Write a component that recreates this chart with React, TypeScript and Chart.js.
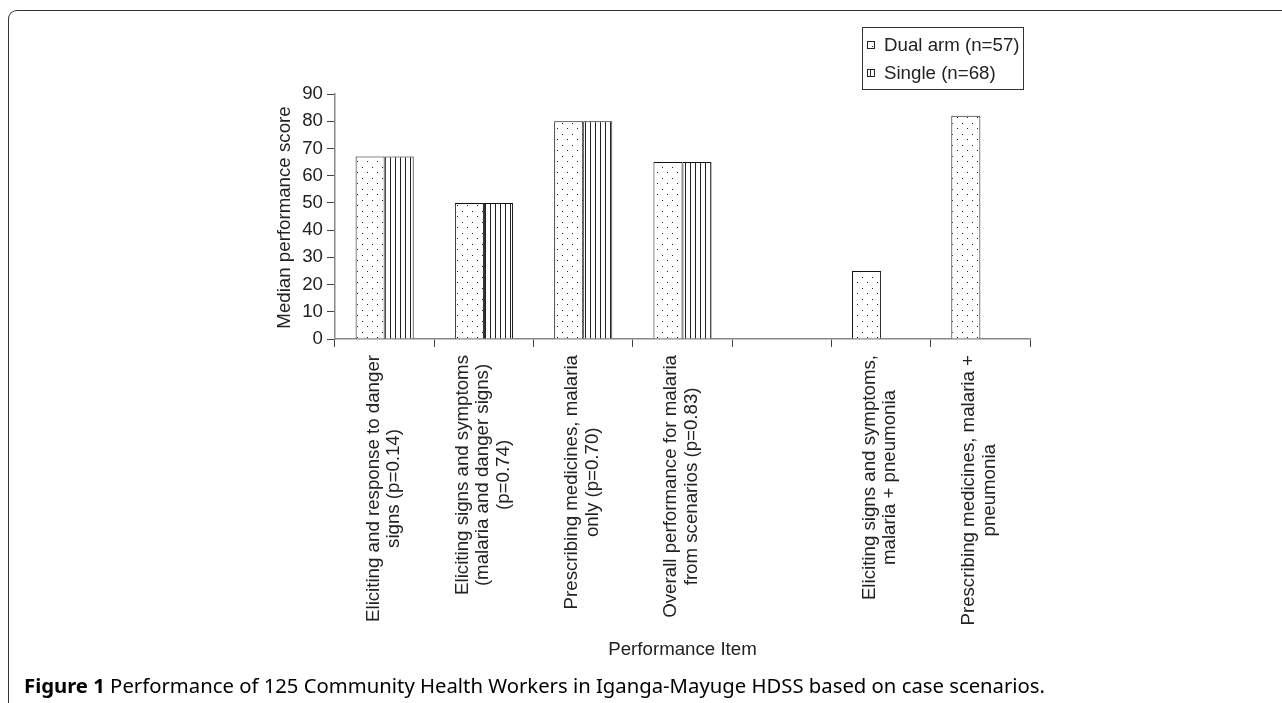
import React, { useEffect, useRef } from "react";
import { Chart, registerables } from "chart.js";

Chart.register(...registerables);

const FONT = "'Liberation Sans', Arial, sans-serif";
const FS = 18.7;

const categories: string[][] = [
  ["Eliciting and response to danger", "signs (p=0.14)"],
  ["Eliciting signs and symptoms", "(malaria and danger signs)", "(p=0.74)"],
  ["Prescribing medicines, malaria", "only (p=0.70)"],
  ["Overall performance for malaria", "from scenarios (p=0.83)"],
  [""],
  ["Eliciting signs and symptoms,", "malaria + pneumonia"],
  ["Prescribing medicines, malaria +", "pneumonia"],
];
const dualArm: (number | null)[] = [67, 50, 80, 65, null, 25, 82];
const single: (number | null)[] = [67, 50, 80, 65, null, null, null];
const seriesLabels = ["Dual arm (n=57)", "Single (n=68)"];
const yTicks = [0, 10, 20, 30, 40, 50, 60, 70, 80, 90];
const yTitle = "Median performance score";
const xTitle = "Performance Item";
const captionBold = "Figure 1";
const captionText = " Performance of 125 Community Health Workers in Iganga-Mayuge HDSS based on case scenarios.";

function makeDots(ctx: CanvasRenderingContext2D) {
  const c = document.createElement("canvas");
  c.width = 10;
  c.height = 11;
  const g = c.getContext("2d")!;
  g.fillStyle = "#ffffff";
  g.fillRect(0, 0, 10, 11);
  g.fillStyle = "#222222";
  g.fillRect(2, 2, 1, 1);
  g.fillRect(7, 7, 1, 1);
  return ctx.createPattern(c, "repeat")!;
}

function makeLines(ctx: CanvasRenderingContext2D) {
  const c = document.createElement("canvas");
  c.width = 5;
  c.height = 5;
  const g = c.getContext("2d")!;
  g.fillStyle = "#ffffff";
  g.fillRect(0, 0, 5, 5);
  g.fillStyle = "#222222";
  g.fillRect(0, 0, 1, 5);
  return ctx.createPattern(c, "repeat")!;
}

export default function App() {
  const ref = useRef<HTMLCanvasElement | null>(null);

  useEffect(() => {
    const canvas = ref.current!;
    const ctx = canvas.getContext("2d")!;
    const dots = makeDots(ctx);
    const lines = makeLines(ctx);
    const patterns = [dots, lines];

    const overlay = {
      id: "overlay",
      afterDraw(chart: any) {
        const c: CanvasRenderingContext2D = chart.ctx;
        const xs = chart.scales.x;
        const ys = chart.scales.y;
        c.save();
        c.font = `${FS}px ${FONT}`;
        c.fillStyle = "#222";
        const lh = 20.5;
        const top = ys.bottom + 16;
        categories.forEach((ls, i) => {
          const cx = xs.getPixelForValue(i) - 1;
          const maxW = Math.max(...ls.map((l) => c.measureText(l).width));
          c.save();
          c.translate(cx, top);
          c.rotate(-Math.PI / 2);
          c.textAlign = "center";
          c.textBaseline = "middle";
          ls.forEach((l, j) => c.fillText(l, -maxW / 2, (j - (ls.length - 1) / 2) * lh));
          c.restore();
        });
        // y title
        c.save();
        c.translate(285, (ys.top + ys.bottom) / 2 + 1);
        c.rotate(-Math.PI / 2);
        c.textAlign = "center";
        c.textBaseline = "middle";
        c.fillText(yTitle, 0, 0);
        c.restore();
        // x title
        c.textAlign = "center";
        c.textBaseline = "middle";
        c.fillText(xTitle, (xs.left + xs.right) / 2, 650);
        // legend
        c.strokeStyle = "#333";
        c.lineWidth = 1;
        c.strokeRect(862.5, 27.5, 161, 62);
        c.textAlign = "left";
        seriesLabels.forEach((lab, k) => {
          const y = 45 + k * 28;
          c.fillStyle = patterns[k];
          c.fillRect(867, y - 4, 8, 8);
          c.strokeStyle = "#222";
          c.strokeRect(867.5, y - 3.5, 7, 7);
          c.fillStyle = "#222";
          c.fillText(lab, 884, y + 1);
        });
        c.restore();
      },
    };

    const chart = new Chart(canvas, {
      type: "bar",
      data: {
        labels: categories.map((l) => l.join(" ")),
        datasets: [
          {
            label: seriesLabels[0],
            data: dualArm,
            backgroundColor: dots,
            borderColor: "#111",
            borderWidth: 1,
            categoryPercentage: 0.585,
            barPercentage: 1.0,
          },
          {
            label: seriesLabels[1],
            data: single,
            backgroundColor: lines,
            borderColor: "#111",
            borderWidth: 1,
            categoryPercentage: 0.585,
            barPercentage: 1.0,
          },
        ],
      },
      options: {
        animation: false,
        responsive: false,
        maintainAspectRatio: false,
        devicePixelRatio: 1,
        layout: { padding: { left: 250, right: 252, top: 94, bottom: 0 } },
        plugins: { legend: { display: false }, tooltip: { enabled: false } },
        scales: {
          x: {
            grid: { offset: true, drawOnChartArea: false, drawTicks: true, tickLength: 8, tickColor: "#444" },
            border: { color: "#888", width: 1.5 },
            ticks: { display: false },
            afterFit: (s: any) => {
              s.height = 364;
            },
          },
          y: {
            min: 0,
            max: 90,
            afterBuildTicks: (s: any) => {
              s.ticks = yTicks.map((v) => ({ value: v }));
            },
            ticks: { font: { family: FONT, size: FS }, color: "#222", padding: 4 },
            grid: { drawOnChartArea: false, drawTicks: true, tickLength: 8, tickColor: "#444" },
            border: { color: "#888", width: 1.5 },
            afterFit: (s: any) => {
              s.width = 85;
            },
          },
        },
      },
      plugins: [overlay],
    } as any);
    return () => chart.destroy();
  }, []);

  return (
    <div style={{ position: "absolute", left: 0, top: 0, width: 1282, height: 703, background: "#fff", overflow: "hidden" }}>
      <div
        style={{
          position: "absolute",
          left: 8,
          top: 10,
          width: 1300,
          height: 720,
          borderTop: "1.5px solid #333",
          borderLeft: "1.5px solid #333",
          borderTopLeftRadius: 9,
        }}
      />
      <canvas ref={ref} width={1282} height={703} style={{ position: "absolute", left: 0, top: 0, width: 1282, height: 703 }} />
      <div
        style={{
          position: "absolute",
          left: 24,
          top: 672,
          fontFamily: "'Noto Sans', sans-serif",
          fontSize: 20.3,
          lineHeight: "26px",
          color: "#000",
          whiteSpace: "nowrap",
        }}
      >
        <b>{captionBold}</b>
        {captionText}
      </div>
    </div>
  );
}
